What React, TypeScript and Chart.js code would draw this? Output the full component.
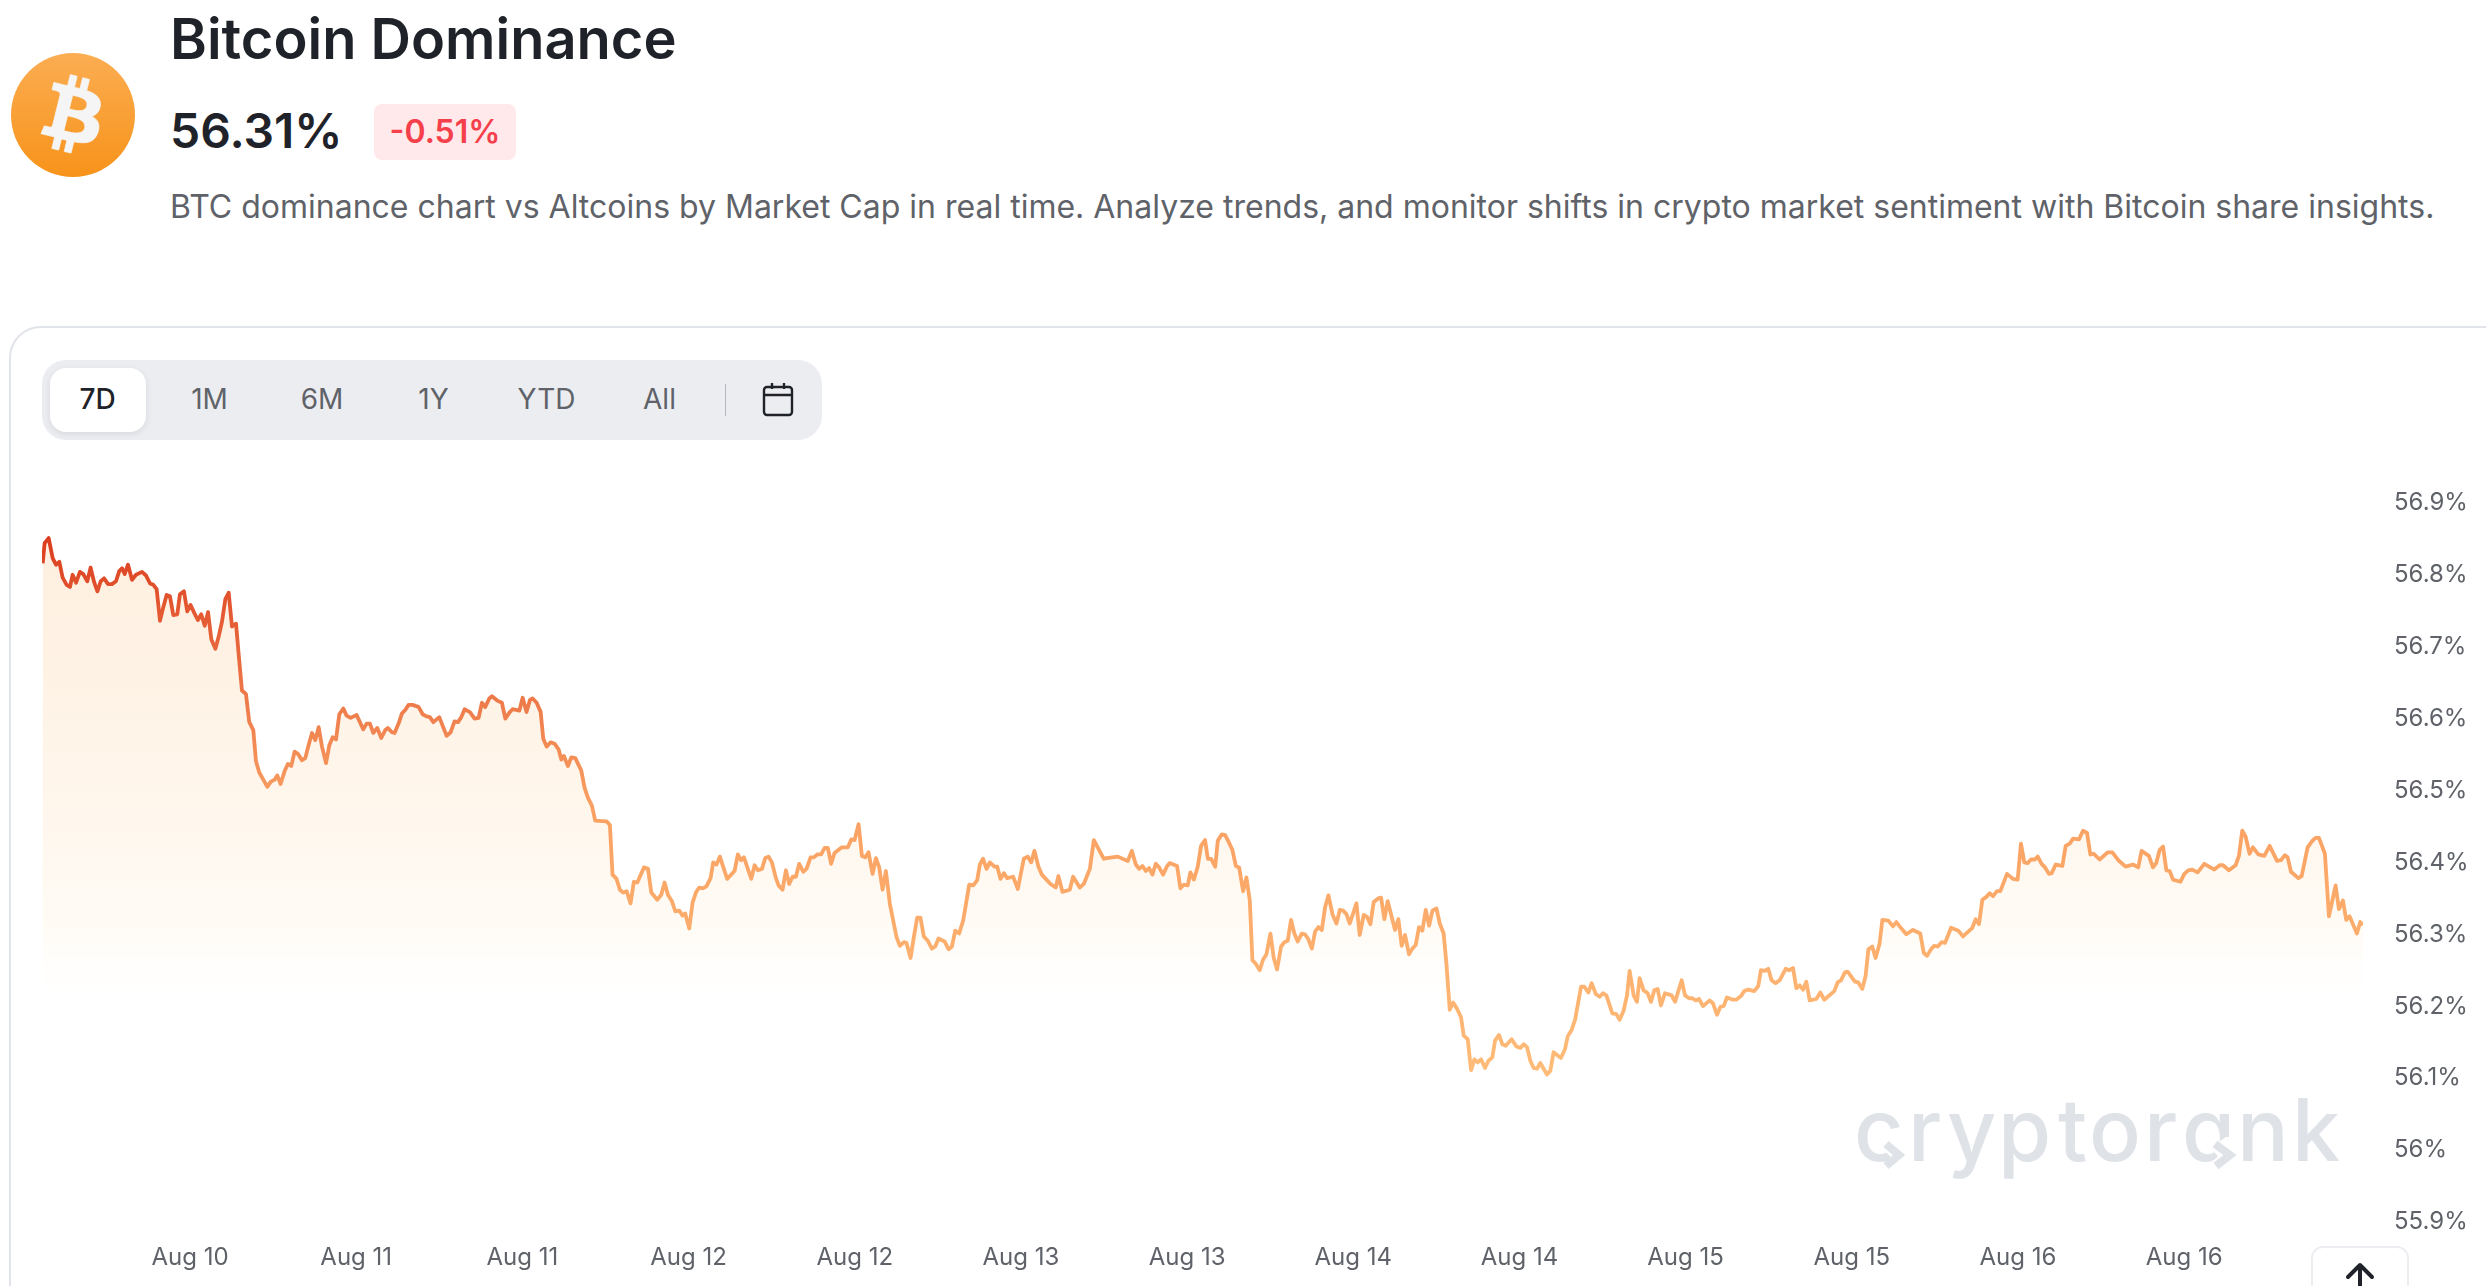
import React, { useEffect, useRef } from "react";
import { Chart, registerables } from "chart.js";

Chart.register(...registerables);

// Hours since the start of the 7D window and BTC dominance (%).
const hoursA = [0.05,0.19,0.48,0.77,1.01,1.25,1.49,1.78,2.02,2.21,2.46,2.74,2.98,3.27,3.51,3.76,4.00,4.24,4.48,4.77,5.05,5.34,5.58,5.78,5.97,6.21,6.50,6.79,7.22,7.51,7.80,8.04,8.28,8.52,8.76,9.00,9.24,9.48,9.77,9.96,10.25,10.49,10.73,11.02,11.26,11.50,11.75,11.99,12.23,12.52,12.76,13.00,13.24,13.48,13.72,14.01,14.25,14.44,14.73,14.97,15.26,15.45,15.69,15.98,16.27,16.51,16.80,16.99,17.23,17.52,17.76,18.00,18.24,18.48,18.77,19.01,19.25,19.50,19.74,19.98,20.22,20.51,20.75,20.99,21.23,21.47,21.76,22.00,22.29,22.72,23.20,23.44,23.68,23.92,24.21,24.50,24.79,24.98,25.27,25.46,25.75,25.99,26.23,26.47,26.76,27.20,27.49,27.77,28.01,28.26,28.69,29.22,29.51,29.79,30.04,30.28,30.52,30.90,31.24,31.53,31.77,32.01,32.30,32.49,32.88];
const valuesA = [56.812,56.840,56.847,56.819,56.810,56.814,56.792,56.782,56.779,56.796,56.785,56.800,56.797,56.787,56.806,56.786,56.773,56.787,56.791,56.783,56.783,56.787,56.801,56.805,56.797,56.810,56.789,56.796,56.800,56.795,56.784,56.782,56.776,56.732,56.751,56.768,56.766,56.740,56.741,56.769,56.773,56.745,56.754,56.742,56.733,56.741,56.725,56.744,56.706,56.693,56.710,56.731,56.762,56.771,56.724,56.728,56.675,56.635,56.630,56.591,56.580,56.537,56.521,56.511,56.501,56.508,56.511,56.517,56.505,56.523,56.533,56.530,56.550,56.547,56.538,56.541,56.559,56.576,56.566,56.584,56.557,56.534,56.559,56.570,56.567,56.602,56.610,56.600,56.597,56.601,56.581,56.589,56.589,56.576,56.583,56.569,56.580,56.583,56.577,56.576,56.589,56.603,56.608,56.615,56.615,56.612,56.602,56.599,56.598,56.591,56.598,56.572,56.577,56.592,56.591,56.598,56.609,56.605,56.596,56.597,56.618,56.612,56.624,56.627,56.621];

const hoursB = [33.21,33.46,33.74,33.98,34.47,34.71,34.99,35.24,35.43,35.72,36.01,36.20,36.44,36.73,37.02,37.31,37.50,37.69,37.98,38.22,38.51,38.94,39.18,39.42,39.71,39.95,40.77,41.01,41.20,41.49,41.73,41.97,42.22,42.50,42.74,42.99,43.47,43.76,44.00,44.43,44.72,44.96,45.20,45.49,45.73,46.02,46.26,46.45,46.74,46.98,47.22,47.46,47.75,47.99,48.28,48.47,48.71,48.95,49.48,50.01,50.25,50.49,50.69,51.22,51.46,51.70,51.99,52.23,52.47,52.71,53.00,53.19,53.48,53.72,53.96,54.20,54.44,54.68,54.97,55.21,55.50,55.74,55.98,56.27,56.51,56.75,56.99,57.23,57.76,58.20,58.44,58.68,58.97,59.21,59.45,59.69,59.98,60.22,60.46,60.70,60.94,61.23,61.71,61.95,62.24,62.43,62.72,62.96,63.20,63.44,63.68,63.97,64.26,64.50,64.74,65.18,65.47,65.71,65.95,66.23,66.52,66.96,67.25,67.53,67.73];
const valuesB = [56.618,56.596,56.604,56.609,56.607,56.625,56.605,56.622,56.624,56.618,56.605,56.568,56.557,56.563,56.561,56.553,56.539,56.544,56.530,56.542,56.541,56.524,56.500,56.486,56.475,56.454,56.453,56.448,56.379,56.373,56.358,56.354,56.356,56.339,56.369,56.368,56.389,56.387,56.354,56.344,56.351,56.368,56.351,56.342,56.328,56.329,56.322,56.325,56.304,56.340,56.354,56.361,56.360,56.363,56.374,56.396,56.393,56.404,56.373,56.384,56.407,56.399,56.403,56.373,56.392,56.385,56.387,56.402,56.404,56.396,56.374,56.364,56.358,56.385,56.366,56.376,56.376,56.394,56.383,56.387,56.403,56.403,56.407,56.407,56.416,56.416,56.394,56.409,56.417,56.417,56.428,56.427,56.449,56.405,56.403,56.410,56.380,56.402,56.389,56.358,56.384,56.338,56.292,56.280,56.285,56.284,56.263,56.292,56.319,56.319,56.293,56.287,56.276,56.279,56.290,56.286,56.275,56.279,56.301,56.297,56.315,56.365,56.364,56.371,56.393];

const hoursC = [67.96,68.21,68.45,68.78,68.98,69.22,69.46,69.70,70.13,70.47,70.90,71.19,71.43,71.67,71.96,72.20,72.83,73.21,73.40,73.69,74.22,74.46,74.94,75.23,75.67,75.96,76.68,76.87,77.69,78.41,78.70,78.99,79.23,79.47,79.71,79.95,80.19,80.43,80.67,80.96,81.25,81.44,81.97,82.21,82.45,82.74,82.93,83.18,83.46,83.70,83.99,84.19,84.43,84.72,84.91,85.20,85.44,85.73,85.97,86.21,86.45,86.74,86.98,87.22,87.41,87.65,87.94,88.18,88.42,88.71,88.95,89.19,89.48,89.72,89.96,90.20,90.44,90.68,90.97,91.21,91.45,91.70,91.94,92.18,92.42,92.66,92.90,93.19,93.48,93.72,93.96,94.20,94.44,94.92,95.16,95.45,95.69,95.93,96.17,96.51,96.70,96.94,97.18,97.71,97.95,98.19,98.43,98.72,98.96,99.20,99.44,99.68,99.93,100.17,100.41,100.70,100.94];
const valuesC = [56.401,56.387,56.396,56.390,56.390,56.373,56.381,56.374,56.376,56.359,56.401,56.404,56.396,56.412,56.390,56.379,56.366,56.361,56.377,56.355,56.358,56.376,56.361,56.366,56.387,56.427,56.401,56.402,56.404,56.398,56.412,56.393,56.387,56.391,56.384,56.388,56.379,56.394,56.389,56.379,56.391,56.395,56.391,56.360,56.365,56.364,56.382,56.372,56.390,56.419,56.427,56.401,56.401,56.390,56.426,56.435,56.434,56.423,56.413,56.391,56.389,56.356,56.375,56.343,56.260,56.255,56.246,56.261,56.268,56.297,56.263,56.247,56.279,56.285,56.287,56.316,56.297,56.286,56.297,56.296,56.289,56.276,56.300,56.306,56.302,56.334,56.350,56.324,56.311,56.330,56.329,56.324,56.311,56.339,56.295,56.323,56.320,56.310,56.341,56.346,56.347,56.317,56.342,56.302,56.317,56.280,56.295,56.268,56.276,56.281,56.306,56.301,56.330,56.308,56.329,56.332,56.311];

const hoursD = [101.22,101.42,101.66,101.90,102.14,102.47,102.67,102.96,103.20,103.44,103.68,103.92,104.21,104.45,104.74,104.93,105.22,105.46,105.70,106.13,106.47,106.76,107.00,107.24,107.48,107.72,107.96,108.20,108.68,108.92,109.16,109.41,109.69,109.98,110.18,110.46,110.71,111.14,111.38,111.67,111.91,112.20,112.49,112.73,112.97,113.40,113.69,113.93,114.22,114.46,114.65,114.94,115.18,115.37,115.66,115.95,116.19,116.43,116.67,116.91,117.20,117.68,117.93,118.41,118.65,118.94,119.18,119.42,119.66,119.95,120.43,120.67,120.96,121.20,121.44,121.68,122.11,122.35,122.69,122.93,123.22,123.65,123.94,124.13,124.42,124.66,124.90,125.19,125.48,125.92,126.16,126.45,126.69,126.93,127.17,127.41,127.65,128.13,128.42,128.71,129.43,129.67,129.91,130.20,130.39,130.92,131.16,131.45,131.69,131.89,132.17,132.41,132.70,132.90,133.33,133.67,133.91,134.15];
const valuesD = [56.297,56.255,56.191,56.201,56.194,56.181,56.155,56.150,56.107,56.122,56.118,56.122,56.110,56.120,56.125,56.148,56.156,56.143,56.141,56.150,56.140,56.138,56.143,56.139,56.120,56.110,56.109,56.117,56.101,56.106,56.132,56.128,56.124,56.136,56.154,56.163,56.177,56.223,56.223,56.215,56.228,56.213,56.209,56.214,56.211,56.186,56.185,56.177,56.190,56.211,56.245,56.211,56.202,56.235,56.218,56.214,56.202,56.218,56.220,56.197,56.214,56.211,56.202,56.232,56.211,56.207,56.207,56.204,56.206,56.196,56.204,56.200,56.184,56.195,56.196,56.208,56.205,56.205,56.210,56.217,56.219,56.217,56.224,56.246,56.245,56.248,56.232,56.228,56.232,56.248,56.246,56.249,56.221,56.225,56.219,56.230,56.204,56.206,56.215,56.205,56.217,56.229,56.232,56.243,56.244,56.230,56.229,56.220,56.238,56.275,56.279,56.263,56.283,56.316,56.315,56.307,56.313,56.307];

const hoursE = [134.63,135.11,135.64,135.89,136.13,136.41,136.65,136.90,137.18,137.43,137.86,138.39,138.72,139.40,139.64,139.88,140.12,140.41,140.65,140.89,141.18,141.42,141.90,142.33,142.67,142.91,143.15,143.39,143.63,143.92,144.12,144.40,144.65,144.93,145.13,145.42,145.90,146.14,146.43,146.67,147.10,147.39,147.68,147.92,148.16,148.59,149.17,149.51,149.94,150.47,151.00,151.38,151.62,152.15,152.44,152.68,152.92,153.17,153.41,153.65,153.89,154.42,154.71,154.99,155.28,155.67,156.15,156.87,157.26,157.50,157.93,158.41,158.65,158.89,159.13,159.42,159.66,160.05,160.48,160.87,161.40,161.68,161.97,162.17,162.41,162.94,163.18,163.61,163.95,164.19,164.43,164.86,165.15,165.63,165.87,166.16,166.40,166.64,167.17,167.41,167.61];
const valuesE = [56.296,56.302,56.297,56.270,56.266,56.275,56.280,56.279,56.285,56.284,56.305,56.301,56.293,56.305,56.317,56.310,56.344,56.348,56.353,56.349,56.356,56.356,56.380,56.373,56.372,56.422,56.396,56.395,56.400,56.400,56.404,56.394,56.389,56.380,56.381,56.393,56.391,56.419,56.422,56.429,56.428,56.440,56.437,56.407,56.408,56.400,56.410,56.410,56.399,56.390,56.393,56.389,56.412,56.405,56.389,56.395,56.413,56.418,56.385,56.384,56.372,56.369,56.380,56.385,56.386,56.382,56.394,56.386,56.392,56.392,56.385,56.392,56.405,56.440,56.432,56.408,56.417,56.407,56.405,56.419,56.398,56.399,56.406,56.403,56.383,56.374,56.377,56.417,56.426,56.430,56.430,56.408,56.321,56.364,56.331,56.343,56.316,56.321,56.297,56.313,56.309];

const hours = [...hoursA, ...hoursB, ...hoursC, ...hoursD, ...hoursE];
const dominance = [...valuesA, ...valuesB, ...valuesC, ...valuesD, ...valuesE];

const xTickHours = [10.69,22.69,34.69,46.69,58.69,70.69,82.69,94.69,106.69,118.69,130.69,142.69,154.69];
const xTickLabels = ["Aug 10","Aug 11","Aug 11","Aug 12","Aug 12","Aug 13","Aug 13","Aug 14","Aug 14","Aug 15","Aug 15","Aug 16","Aug 16"];
const yTickValues = [55.9,56,56.1,56.2,56.3,56.4,56.5,56.6,56.7,56.8,56.9];
const yTickLabels = ["55.9%","56%","56.1%","56.2%","56.3%","56.4%","56.5%","56.6%","56.7%","56.8%","56.9%"];
const ranges = ["7D","1M","6M","1Y","YTD","All"];
const rangeCenters = [97.5,209.5,322,433.5,546.5,659.5];

const FONT = "Inter, sans-serif";
const WM = "#DFE2E7";

function Txt(p: { x: number; y: number; size: number; weight?: number; color: string; children: any; center?: boolean; spacing?: number }) {
  return (
    <div style={{ position: "absolute", left: p.x, top: p.y, transform: `translate(${p.center ? "-50%" : "0"},-50%)`, font: `${p.weight ?? 400} ${p.size}px/1.2 ${FONT}`, color: p.color, whiteSpace: "nowrap", letterSpacing: p.spacing ?? 0 }}>
      {p.children}
    </div>
  );
}

export default function App() {
  const ref = useRef<HTMLCanvasElement>(null);
  useEffect(() => {
    const chart = new Chart(ref.current!, {
      type: "line",
      data: {
        datasets: [{
          data: hours.map((h, i) => ({ x: h, y: dominance[i] })),
          borderWidth: 3.8,
          pointRadius: 0,
          tension: 0,
          borderJoinStyle: "round",
          fill: "start",
          borderColor: (c: any) => {
            const g = c.chart.ctx.createLinearGradient(0, 530, 0, 1080);
            g.addColorStop(0, "#DA3A1C");
            g.addColorStop(0.31, "#EE7A4A");
            g.addColorStop(0.5, "#F9A062");
            g.addColorStop(1, "#FFBC78");
            return g;
          },
          backgroundColor: (c: any) => {
            const g = c.chart.ctx.createLinearGradient(0, 530, 0, 1015);
            g.addColorStop(0, "rgba(254,239,223,1)");
            g.addColorStop(0.5, "rgba(255,245,234,1)");
            g.addColorStop(0.82, "rgba(255,251,245,1)");
            g.addColorStop(1, "rgba(255,255,255,0)");
            return g;
          },
        }],
      },
      options: {
        animation: false,
        responsive: false,
        devicePixelRatio: 1,
        layout: { padding: { left: 42, top: 500, right: 0, bottom: 0 } },
        plugins: { legend: { display: false }, tooltip: { enabled: false }, title: { display: false } },
        scales: {
          x: {
            type: "linear",
            min: 0,
            max: 167.61,
            grid: { display: false, drawTicks: false },
            border: { display: false },
            afterBuildTicks: (s: any) => { s.ticks = xTickHours.map((value) => ({ value })); },
            afterFit: (s: any) => { s.height = 67; },
            ticks: {
              autoSkip: false, maxRotation: 0, padding: 24, color: "#5F6369",
              font: { family: FONT, size: 24 },
              callback: (_v: any, i: number) => xTickLabels[i],
            },
          },
          y: {
            position: "right",
            min: 55.9,
            max: 56.9,
            grid: { display: false, drawTicks: false },
            border: { display: false },
            afterBuildTicks: (s: any) => { s.ticks = yTickValues.map((value) => ({ value })); },
            afterFit: (s: any) => { s.width = 123; },
            ticks: {
              autoSkip: false, padding: 31, color: "#5F6369", labelOffset: 3,
              font: { family: FONT, size: 24 },
              callback: (_v: any, i: number) => yTickLabels[i],
            },
          },
        },
      },
    });
    return () => chart.destroy();
  }, []);

  return (
    <div style={{ position: "fixed", left: 0, top: 0, width: 2486, height: 1286, overflow: "hidden", background: "#fff", fontFamily: FONT }}>
      <div style={{ position: "absolute", left: 11, top: 53, width: 124, height: 124, borderRadius: "50%", background: "linear-gradient(180deg,#FBAD52,#F7931A)" }}>
        <svg viewBox="0 0 24 24" width={124} height={124} style={{ position: "absolute", left: 0, top: 0 }}>
          <path fill="#F5F5F5" stroke="#F5F5F5" strokeWidth={0.15} fillRule="evenodd" d="M17.288 10.291c.24-1.59-.974-2.45-2.64-3.03l.54-2.153-1.315-.33-.525 2.107c-.345-.087-.705-.167-1.064-.25l.526-2.127-1.32-.33-.54 2.165c-.285-.067-.565-.132-.84-.2l-1.815-.45-.35 1.407s.975.225.955.236c.535.136.63.486.615.766l-1.477 5.92c-.075.166-.24.406-.614.314.015.02-.96-.24-.96-.24l-.66 1.51 1.71.426.93.242-.54 2.19 1.32.327.54-2.17c.36.1.705.19 1.05.273l-.51 2.154 1.32.33.545-2.19c2.24.427 3.93.257 4.64-1.774.57-1.637-.03-2.58-1.217-3.196.854-.193 1.5-.76 1.68-1.93h.01zm-3.01 4.22c-.404 1.64-3.157.75-4.05.53l.72-2.9c.896.23 3.757.67 3.33 2.37zm.41-4.24c-.37 1.49-2.662.735-3.405.55l.654-2.64c.744.18 3.137.524 2.75 2.084v.006z" />
        </svg>
      </div>
      <Txt x={170} y={40} size={56} weight={600} color="#1F2329">Bitcoin Dominance</Txt>
      <Txt x={170} y={130.5} size={48} weight={600} color="#1F2329">56.31%</Txt>
      <div style={{ position: "absolute", left: 374, top: 104, width: 142, height: 56, borderRadius: 8, background: "#FFE9EA" }} />
      <Txt x={445} y={131.5} size={32} weight={600} color="#F5404C" center>-0.51%</Txt>
      <Txt x={170} y={206.5} size={32} color="#5F6369">BTC dominance chart vs Altcoins by Market Cap in real time. Analyze trends, and monitor shifts in crypto market sentiment with Bitcoin share insights.</Txt>

      <div style={{ position: "absolute", left: 9, top: 326, width: 2540, height: 1000, border: "2px solid #E1E4E9", borderRadius: 32, boxSizing: "border-box" }} />
      <div style={{ position: "absolute", left: 42, top: 360, width: 780, height: 80, borderRadius: 24, background: "#ECEDF1" }} />
      <div style={{ position: "absolute", left: 50, top: 368, width: 96, height: 64, borderRadius: 16, background: "#fff", boxShadow: "0 2px 6px rgba(30,35,45,0.10)" }} />
      {ranges.map((r, i) => (
        <Txt key={r} x={rangeCenters[i]} y={400} size={28} weight={i === 0 ? 500 : 400} color={i === 0 ? "#1F2329" : "#5F6369"} center>{r}</Txt>
      ))}
      <div style={{ position: "absolute", left: 724.5, top: 384, width: 1.5, height: 32, background: "#B4B8BE" }} />
      <svg width={34} height={36} style={{ position: "absolute", left: 761, top: 381 }} viewBox="0 0 34 36" fill="none" stroke="#1F2329" strokeWidth={2.4}>
        <rect x="3" y="6" width="28" height="28" rx="3" />
        <path d="M3 14H31M11 2V8M23 2V8" />
      </svg>

      <svg width={2486} height={1286} style={{ position: "absolute", left: 0, top: 0 }}>
        <text x="1854 1908 1947 1998 2058 2089 2144 2182 2237 2292" y="1161" fill={WM} style={{ font: `500 86px ${FONT}`, fontFeatureSettings: '"cv11"' }}>cryptorank</text>
        <polygon fill="#fff" points="1883,1140 1906,1140 1906,1172 1890,1172 1890,1156 1881,1148" />
        <polyline fill="none" stroke={WM} strokeWidth={8} points="1886,1144 1899,1155 1886,1166" />
        <polygon fill="#fff" points="2226,1137 2238,1137 2238,1172 2218,1172 2218,1156 2210,1148" />
        <polyline fill="none" stroke={WM} strokeWidth={8} points="2215,1144 2230,1155 2216,1166" />
      </svg>

      <canvas ref={ref} width={2486} height={1286} style={{ position: "absolute", left: 0, top: 0, width: 2486, height: 1286 }} />

      <div style={{ position: "absolute", left: 2311, top: 1246, width: 98, height: 70, border: "2px solid #ECEEF1", borderRadius: 12, background: "#fff", boxSizing: "border-box" }}>
        <svg width={40} height={40} viewBox="0 0 40 40" style={{ position: "absolute", left: 27, top: 12 }} fill="none" stroke="#1F2329" strokeWidth={4} strokeLinecap="round" strokeLinejoin="round">
          <path d="M20 38V5M8 17L20 5L32 17" />
        </svg>
      </div>
    </div>
  );
}
